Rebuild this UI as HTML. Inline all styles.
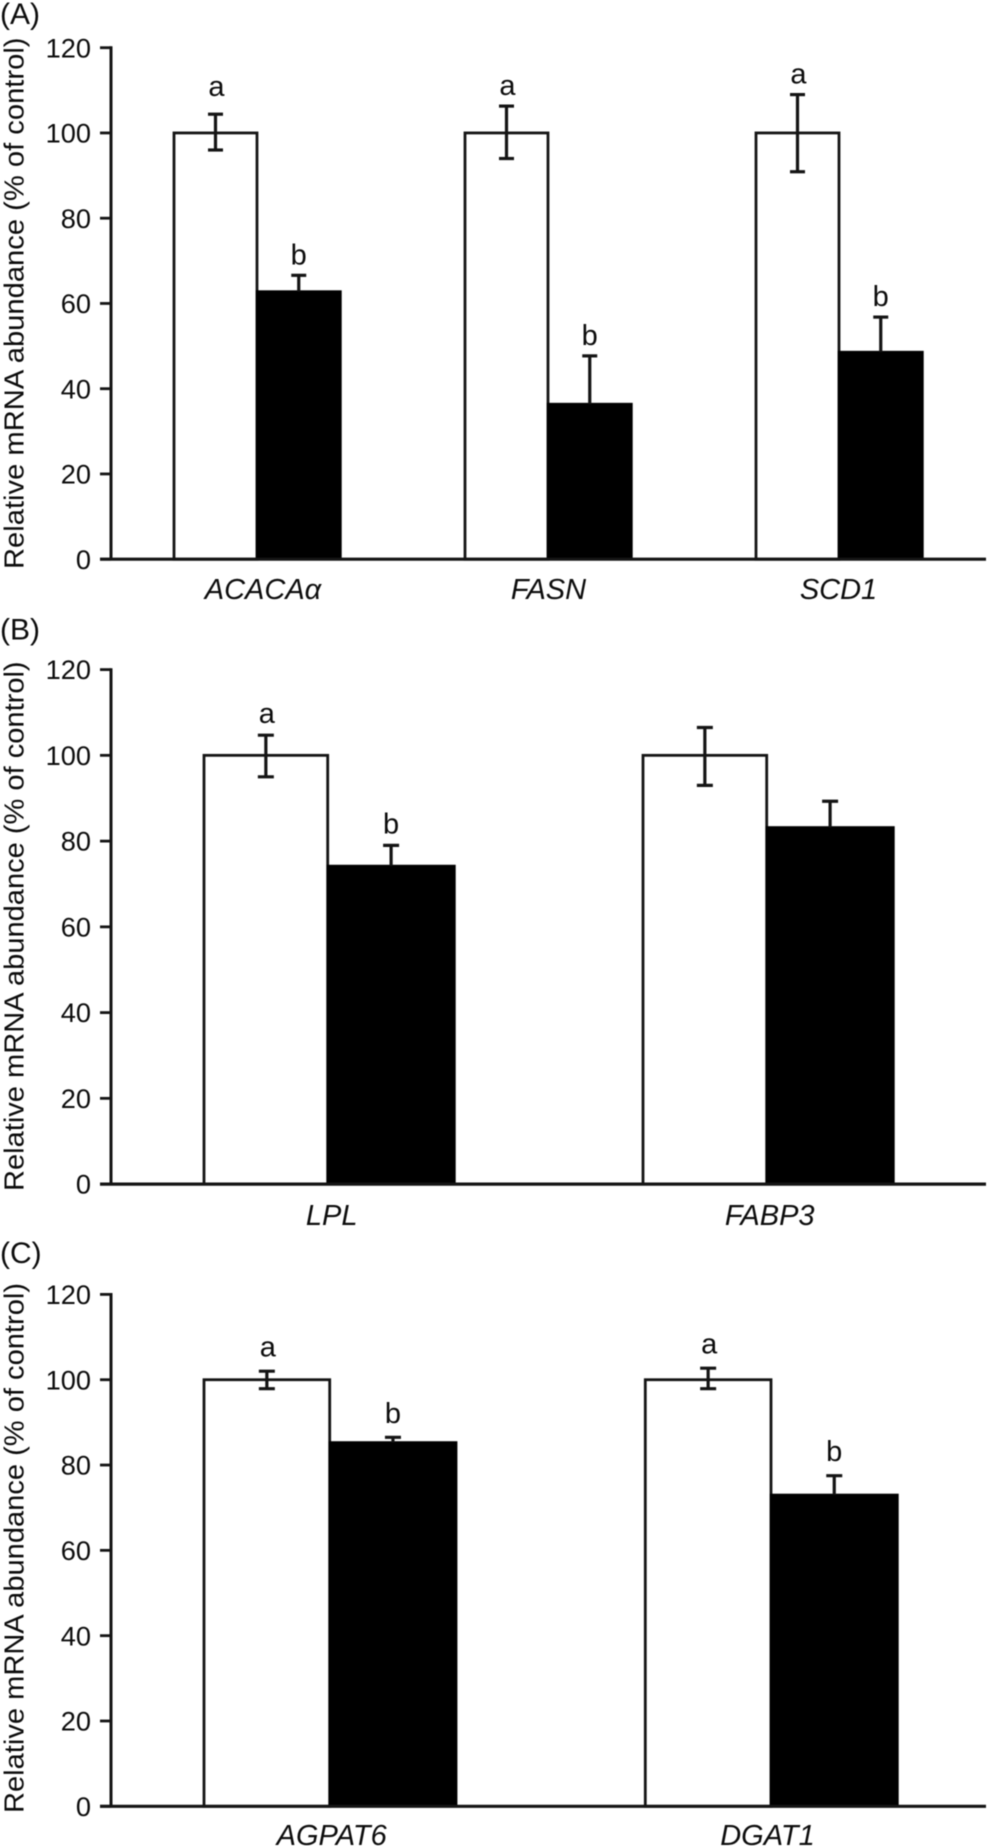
<!DOCTYPE html>
<html lang="en">
<head>
<meta charset="utf-8">
<title>Relative mRNA abundance</title>
<style>
  html, body { margin: 0; padding: 0; background: #fff; }
  svg { display: block; font-family: "Liberation Sans", sans-serif; filter: blur(0.4px); }
  text { fill: #0c0c0c; }
</style>
</head>
<body>
<svg id="chart" xmlns="http://www.w3.org/2000/svg" width="991" height="1846" viewBox="0 0 991 1846"></svg>
<script>
// Shared axis data
const yTicks = [0, 20, 40, 60, 80, 100, 120];
const yAxisTitle = "Relative mRNA abundance (% of control)";

// Panel A
const categoriesA = ["ACACAα", "FASN", "SCD1"];
const controlA = [100, 100, 100];
const controlUpperA = [104.4, 106.3, 109];
const controlLowerA = [96, 94, 90.9];
const treatedA = [62.8, 36.4, 48.6];
const treatedUpperA = [66.6, 47.7, 56.8];
const controlLettersA = ["a", "a", "a"];
const treatedLettersA = ["b", "b", "b"];

// Panel B
const categoriesB = ["LPL", "FABP3"];
const controlB = [100, 100];
const controlUpperB = [104.7, 106.5];
const controlLowerB = [95, 93];
const treatedB = [74.2, 83.2];
const treatedUpperB = [79, 89.3];
const controlLettersB = ["a", ""];
const treatedLettersB = ["b", ""];

// Panel C
const categoriesC = ["AGPAT6", "DGAT1"];
const controlC = [100, 100];
const controlUpperC = [102, 102.7];
const controlLowerC = [97.9, 97.9];
const treatedC = [85.3, 73];
const treatedUpperC = [86.5, 77.5];
const controlLettersC = ["a", "a"];
const treatedLettersC = ["b", "b"];

const SVG_NS = "http://www.w3.org/2000/svg";
const root = document.getElementById("chart");
const INK = "#141414";

function make(parent, tag, attrs, content) {
  const node = document.createElementNS(SVG_NS, tag);
  for (const key in attrs) node.setAttribute(key, attrs[key]);
  if (content !== undefined) node.textContent = content;
  parent.appendChild(node);
  return node;
}

function line(parent, x1, y1, x2, y2, width) {
  return make(parent, "line", { x1, y1, x2, y2, stroke: INK, "stroke-width": width });
}

function drawPanel(p) {
  const group = make(root, "g", {});
  
  

  // Axis functions
  const yScale = v => p.y0 + (p.y120 - p.y0) * v / 120;
  const xStart = i => p.x0 + p.step * i;

  const panelLabel = make(group, "text", { x: 0, y: p.labelY, "font-size": 30 }, "(" + p.id + ")");
  
  

  const title = make(group, "text", {
    x: 0, y: 0,
    transform: "translate(23.5 " + p.titleBottom + ") rotate(-90)",
    "font-size": 28,
    textLength: p.titleBottom - p.titleTop,
    lengthAdjust: "spacingAndGlyphs"
  }, yAxisTitle);
  
  

  // Bars come first so the axes overlay their base.
  p.categories.forEach((name, i) => {
    const left = xStart(i);
    const mid = left + p.barW;
    const right = left + p.barW + p.barW2;
    const controlX = left + p.barW / 2;
    const treatedX = mid + p.barW2 / 2;

    const controlBar = make(group, "rect", {
      x: left, y: yScale(p.control[i]), width: p.barW,
      height: p.y0 - yScale(p.control[i]),
      fill: "#fff", stroke: INK, "stroke-width": 2.8
    });
    
    

    const treatedBar = make(group, "rect", {
      x: mid, y: yScale(p.treated[i]), width: right - mid,
      height: p.y0 - yScale(p.treated[i]),
      fill: "#000", stroke: "#000", "stroke-width": 2.4
    });
    
    

    const controlErr = make(group, "g", {});
    
    
    const cu = yScale(p.controlUpper[i]);
    const cl = yScale(p.controlLower[i]);
    line(controlErr, controlX, cu, controlX, cl, 3.2);
    line(controlErr, controlX - p.cap, cu, controlX + p.cap, cu, 3.2);
    line(controlErr, controlX - p.cap, cl, controlX + p.cap, cl, 3.2);

    const treatedErr = make(group, "g", {});
    
    
    const tu = yScale(p.treatedUpper[i]);
    line(treatedErr, treatedX, tu, treatedX, yScale(p.treated[i]), 3.2);
    line(treatedErr, treatedX - p.cap, tu, treatedX + p.cap, tu, 3.2);

    if (p.controlLetters[i]) {
      const nudge = (p.controlNudge && p.controlNudge[name]) || 0;
      const letterA = make(group, "text", {
        x: controlX + 1, y: cu - p.letterGap - nudge,
        "font-size": 29, "text-anchor": "middle"
      }, p.controlLetters[i]);
      
      
    }
    if (p.treatedLetters[i]) {
      const letterB = make(group, "text", {
        x: treatedX, y: tu - p.letterGap,
        "font-size": 29, "text-anchor": "middle"
      }, p.treatedLetters[i]);
      
      
    }

    const catLabel = make(group, "text", {
      x: mid + (p.labelShift[i] || 0), y: p.catY,
      "font-size": 29, "font-style": "italic", "text-anchor": "middle"
    }, name);
    
    
  });

  // Axes
  const yAxis = line(group, p.axisX, yScale(120) - 1.4, p.axisX, p.y0, 3);
  
  

  const xAxis = line(group, p.tickLeft, p.y0, p.axisRight, p.y0, 3.2);
  
  

  yTicks.forEach(v => {
    const y = yScale(v);
    const tick = line(group, p.tickLeft, y, p.axisX, y, 2.8);
    
    

    const tickLabel = make(group, "text", {
      x: p.tickTextX, y: y + 9.6, "font-size": 27.2, "text-anchor": "end"
    }, String(v));
    
    
  });
}

drawPanel({
  id: "A", categories: categoriesA, control: controlA, controlUpper: controlUpperA,
  controlLower: controlLowerA, treated: treatedA, treatedUpper: treatedUpperA,
  controlLetters: controlLettersA, treatedLetters: treatedLettersA,
  y0: 559.2, y120: 47.7, x0: 174, step: 291, barW: 83, barW2: 83.5,
  cap: 7.5, letterGap: 11, controlNudge: { "ACACAα": 7 },
  labelShift: [6, 0.5, -0.5], catY: 599, labelY: 24,
  titleTop: 37.5, titleBottom: 569,
  axisX: 111, tickLeft: 100, axisRight: 986, tickTextX: 91
});

drawPanel({
  id: "B", categories: categoriesB, control: controlB, controlUpper: controlUpperB,
  controlLower: controlLowerB, treated: treatedB, treatedUpper: treatedUpperB,
  controlLetters: controlLettersB, treatedLetters: treatedLettersB,
  y0: 1184.1, y120: 669.6, x0: 204, step: 439, barW: 123.7, barW2: 126.8,
  cap: 8, letterGap: 12, labelShift: [4, 3], catY: 1225, labelY: 639.5,
  titleTop: 661.4, titleBottom: 1191,
  axisX: 111, tickLeft: 100, axisRight: 986, tickTextX: 91
});

drawPanel({
  id: "C", categories: categoriesC, control: controlC, controlUpper: controlUpperC,
  controlLower: controlLowerC, treated: treatedC, treatedUpper: treatedUpperC,
  controlLetters: controlLettersC, treatedLetters: treatedLettersC,
  y0: 1806.3, y120: 1294.4, x0: 204, step: 441.3, barW: 125.7, barW2: 126.5,
  cap: 8, letterGap: 14.5, labelShift: [2, -3.5], catY: 1845, labelY: 1263,
  titleTop: 1283, titleBottom: 1813,
  axisX: 111, tickLeft: 100, axisRight: 986, tickTextX: 91
});
</script>
</body>
</html>
